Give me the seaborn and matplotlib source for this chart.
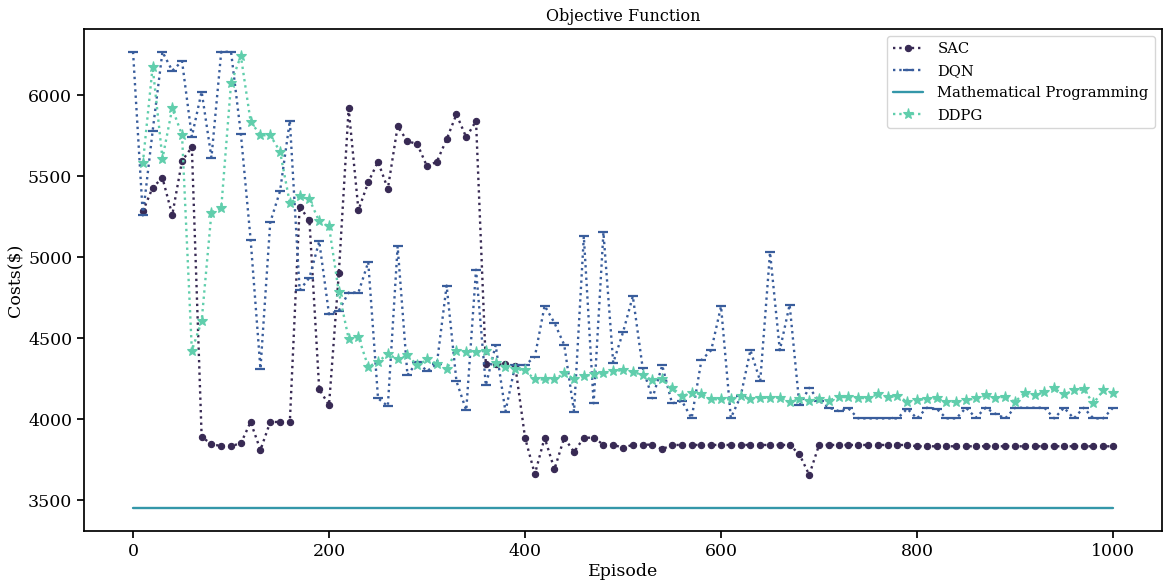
import numpy as np
import pandas as pd
import matplotlib
matplotlib.use("Agg")
import matplotlib.pyplot as plt
import seaborn as sns

# ---------------- data ----------------
episodes_dqn = list(range(0, 1001, 10))
episodes_rl = list(range(10, 1001, 10))

sac_costs = [
    5282, 5429, 5489, 5259, 5594, 5678, 3892, 3844, 3834, 3834,
    3850, 3982, 3809, 3982, 3982, 3982, 5312, 5226, 4183, 4087,
    4902, 5918, 5290, 5462, 5589, 5421, 5807, 5715, 5698, 5559,
    5589, 5727, 5881, 5739, 5840, 4337, 4337, 4337, 4330, 3885,
    3660, 3885, 3690, 3885, 3797, 3885, 3885, 3842, 3842, 3822,
    3842, 3842, 3842, 3814, 3840, 3840, 3840, 3840, 3840, 3840,
    3840, 3840, 3840, 3840, 3840, 3840, 3840, 3783, 3655, 3840,
    3840, 3840, 3840, 3840, 3840, 3840, 3840, 3840, 3840, 3832,
    3832, 3832, 3832, 3832, 3832, 3832, 3832, 3832, 3832, 3832,
    3832, 3832, 3832, 3832, 3832, 3832, 3832, 3832, 3832, 3832,
]

dqn_costs = [
    6267,
    5257, 5778, 6267, 6150, 6209, 5743, 6021, 5614, 6267, 6267,
    5762, 5107, 4310, 5214, 5407, 5842, 4795, 4873, 5097, 4647,
    4670, 4781, 4781, 4969, 4128, 4080, 5066, 4271, 4353, 4296,
    4340, 4824, 4234, 4054, 4922, 4208, 4456, 4046, 4333, 4333,
    4384, 4700, 4594, 4458, 4046, 5127, 4097, 5152, 4347, 4536,
    4758, 4317, 4128, 4331, 4097, 4112, 4005, 4364, 4425, 4696,
    4007, 4140, 4425, 4234, 5029, 4425, 4706, 4084, 4193, 4112,
    4071, 4050, 4066, 4004, 4004, 4004, 4004, 4004, 4064, 4004,
    4070, 4064, 4004, 4004, 4070, 4008, 4070, 4033, 4004, 4070,
    4070, 4070, 4070, 4004, 4070, 4004, 4070, 4004, 4004, 4070,
]

mp_costs = [3450] * 101

ddpg_costs = [
    5579, 6175, 5608, 5918, 5754, 4423, 4604, 5275, 5302, 6072,
    6242, 5836, 5752, 5752, 5651, 5333, 5374, 5357, 5220, 5189,
    4783, 4497, 4507, 4323, 4353, 4403, 4368, 4395, 4331, 4368,
    4343, 4306, 4423, 4417, 4417, 4421, 4347, 4320, 4310, 4300,
    4245, 4245, 4245, 4282, 4249, 4265, 4276, 4282, 4296, 4302,
    4292, 4271, 4240, 4245, 4194, 4142, 4159, 4155, 4122, 4122,
    4122, 4142, 4126, 4130, 4132, 4132, 4106, 4122, 4114, 4122,
    4114, 4138, 4134, 4132, 4127, 4156, 4135, 4142, 4107, 4117,
    4125, 4127, 4107, 4107, 4117, 4127, 4146, 4132, 4138, 4107,
    4162, 4148, 4166, 4189, 4152, 4177, 4183, 4097, 4177, 4162,
]

series_names = ["SAC", "DQN", "Mathematical Programming", "DDPG"]

# ---------------- style ----------------
sns.set_theme(style="ticks", context="notebook")
plt.rcParams["font.family"] = ["DejaVu Serif"]
plt.rcParams["xtick.major.size"] = 5
plt.rcParams["ytick.major.size"] = 5
plt.rcParams["axes.edgecolor"] = "black"
plt.rcParams["xtick.color"] = "black"
plt.rcParams["ytick.color"] = "black"
plt.rcParams["text.color"] = "black"
plt.rcParams["axes.labelcolor"] = "black"

palette = sns.color_palette("mako", 4)

fig = plt.figure(figsize=(11.64, 5.83), dpi=100)
ax = fig.add_axes([0.0722, 0.0892, 0.9261, 0.8611])

sns.lineplot(x=episodes_rl, y=sac_costs, ax=ax, label=series_names[0],
             color=palette[0], linestyle=":", linewidth=1.7, marker="o",
             markersize=4.5, markeredgecolor=palette[0], markeredgewidth=0.8)
sns.lineplot(x=episodes_dqn, y=dqn_costs, ax=ax, label=series_names[1],
             color=palette[1], linestyle=":", linewidth=1.7, marker="_",
             markersize=7, markeredgecolor=palette[1], markeredgewidth=1.6)
sns.lineplot(x=episodes_dqn, y=mp_costs, ax=ax, label=series_names[2],
             color=palette[2], linestyle="-", linewidth=1.7)
sns.lineplot(x=episodes_rl, y=ddpg_costs, ax=ax, label=series_names[3],
             color=palette[3], linestyle=":", linewidth=1.7, marker="*",
             markersize=8, markeredgecolor=palette[3], markeredgewidth=0.8)

ax.set_title("Objective Function", fontsize=11.5)
ax.set_xlabel("Episode", fontsize=12.5, labelpad=2)
ax.set_ylabel("Costs($)", fontsize=12.5, labelpad=3)
ax.tick_params(labelsize=12.5)
ax.set_xticks([0, 200, 400, 600, 800, 1000])
ax.set_yticks([3500, 4000, 4500, 5000, 5500, 6000])
ax.margins(x=0.05, y=0.05)

ax.legend(loc="upper right", fontsize=10.6, frameon=True, handlelength=2.0,
          handletextpad=1.0, labelspacing=0.55)

fig.savefig("out.png", dpi=100)
